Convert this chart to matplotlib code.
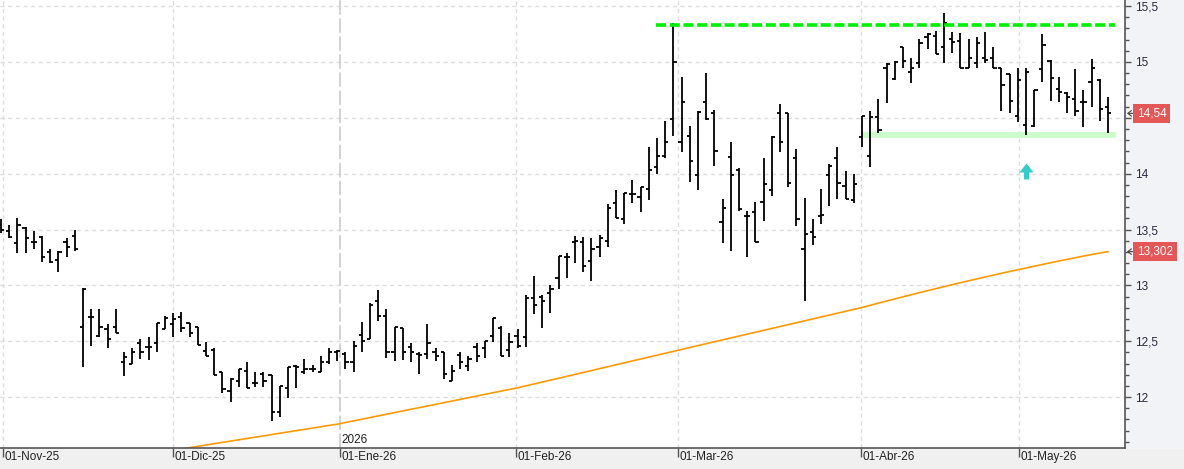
import numpy as np
import matplotlib
matplotlib.use('Agg')
import matplotlib.pyplot as plt
import matplotlib.transforms as mtransforms
from matplotlib.patches import Rectangle
from matplotlib.path import Path
from matplotlib.ticker import MultipleLocator, FuncFormatter

plt.rcParams['font.family'] = ['Liberation Sans', 'DejaVu Sans']

# daily OHLC, 03-Nov-25 .. 20-May-26
opens = [13.54, 13.49, 13.38, 13.51, 13.39, 13.43, 13.30, 13.23, 13.39, 13.44,
         12.63, 12.72, 12.55, 12.61, 12.63, 12.31, 12.30, 12.48, 12.45, 12.48,
         12.61, 12.65, 12.72, 12.66, 12.63, 12.41, 12.42, 12.22, 12.05, 12.14,
         12.23, 12.13, 12.21, 12.20, 11.87, 12.08, 12.28, 12.22, 12.25, 12.22,
         12.31, 12.40, 12.39, 12.31, 12.56, 12.52, 12.86, 12.73, 12.40, 12.62,
         12.45, 12.39, 12.39, 12.40, 12.40, 12.14, 12.38, 12.28, 12.45, 12.44,
         12.55, 12.62, 12.42, 12.55, 12.54, 12.89, 12.90, 12.93, 13.07, 13.25,
         13.39, 13.39, 13.22, 13.34, 13.40, 13.74, 13.59, 13.82, 13.79, 13.86,
         14.06, 14.16, 14.49, 14.28, 14.34, 13.99, 14.64, 14.54, 13.57, 14.15,
         14.03, 13.62, 13.66, 13.75, 13.85, 14.54, 14.54, 14.14, 13.33, 13.48,
         13.62, 13.99, 14.14, 13.89, 13.76, 14.33, 14.16, 14.51, 14.95, 14.85,
         15.13, 14.91, 14.99, 15.22, 15.23, 15.13, 15.21, 15.19, 14.95, 14.99,
         15.04, 15.04, 14.95, 14.89, 14.52, 14.44, 14.43, 14.94, 15.01, 14.76,
         14.72, 14.67, 14.64, 14.82, 14.84, 14.60]
highs = [13.59, 13.54, 13.60, 13.52, 13.49, 13.44, 13.33, 13.31, 13.42, 13.50,
         12.98, 12.79, 12.79, 12.65, 12.79, 12.40, 12.44, 12.52, 12.54, 12.66,
         12.73, 12.75, 12.76, 12.66, 12.63, 12.49, 12.44, 12.22, 12.17, 12.25,
         12.31, 12.22, 12.22, 12.20, 12.10, 12.27, 12.29, 12.34, 12.29, 12.37,
         12.44, 12.42, 12.40, 12.50, 12.67, 12.84, 12.96, 12.79, 12.63, 12.62,
         12.48, 12.40, 12.65, 12.44, 12.40, 12.29, 12.40, 12.37, 12.48, 12.50,
         12.71, 12.64, 12.57, 12.61, 12.91, 13.08, 12.91, 13.00, 13.26, 13.29,
         13.44, 13.43, 13.42, 13.45, 13.73, 13.85, 13.83, 13.94, 13.88, 14.24,
         14.32, 14.47, 15.35, 14.87, 14.43, 14.56, 14.90, 14.57, 13.77, 14.28,
         14.05, 13.67, 13.75, 14.14, 14.34, 14.62, 14.54, 14.22, 13.78, 13.59,
         13.86, 14.09, 14.24, 14.02, 14.00, 14.52, 14.56, 14.67, 14.99, 15.01,
         15.13, 15.04, 15.21, 15.26, 15.28, 15.44, 15.27, 15.26, 15.21, 15.22,
         15.27, 15.13, 14.95, 14.89, 14.95, 14.95, 14.75, 15.25, 15.02, 14.87,
         14.73, 14.94, 14.75, 15.03, 14.85, 14.69]
lows = [13.47, 13.42, 13.29, 13.29, 13.33, 13.21, 13.20, 13.12, 13.25, 13.31,
        12.27, 12.46, 12.54, 12.44, 12.57, 12.19, 12.30, 12.34, 12.33, 12.40,
        12.61, 12.54, 12.58, 12.54, 12.47, 12.37, 12.20, 12.04, 11.96, 12.09,
        12.08, 12.09, 12.09, 11.79, 11.82, 11.99, 12.08, 12.21, 12.22, 12.22,
        12.30, 12.32, 12.25, 12.22, 12.40, 12.52, 12.68, 12.35, 12.32, 12.33,
        12.31, 12.21, 12.34, 12.32, 12.16, 12.14, 12.25, 12.23, 12.31, 12.35,
        12.49, 12.37, 12.36, 12.44, 12.45, 12.74, 12.62, 12.75, 12.97, 13.07,
        13.20, 13.12, 13.04, 13.25, 13.34, 13.60, 13.55, 13.74, 13.66, 13.76,
        14.00, 14.14, 14.34, 14.19, 13.93, 13.85, 14.48, 14.07, 13.38, 13.31,
        13.67, 13.25, 13.39, 13.58, 13.80, 14.19, 13.88, 13.53, 12.86, 13.36,
        13.55, 13.71, 13.77, 13.77, 13.74, 14.24, 14.06, 14.36, 14.63, 14.84,
        14.95, 14.81, 14.95, 15.12, 15.07, 14.99, 15.08, 14.95, 14.95, 14.95,
        14.99, 14.95, 14.56, 14.54, 14.46, 14.35, 14.42, 14.82, 14.65, 14.64,
        14.54, 14.52, 14.42, 14.60, 14.47, 14.36]
closes = [13.50, 13.43, 13.54, 13.42, 13.39, 13.25, 13.21, 13.30, 13.34, 13.33,
          12.97, 12.72, 12.63, 12.52, 12.57, 12.36, 12.40, 12.40, 12.45, 12.66,
          12.71, 12.70, 12.62, 12.57, 12.47, 12.37, 12.20, 12.07, 12.16, 12.25,
          12.08, 12.13, 12.14, 11.87, 12.10, 12.27, 12.27, 12.25, 12.25, 12.31,
          12.40, 12.41, 12.31, 12.46, 12.50, 12.82, 12.73, 12.40, 12.63, 12.40,
          12.40, 12.38, 12.48, 12.37, 12.21, 12.23, 12.31, 12.34, 12.37, 12.50,
          12.71, 12.37, 12.49, 12.46, 12.89, 12.82, 12.86, 12.97, 13.26, 13.25,
          13.40, 13.17, 13.33, 13.42, 13.69, 13.60, 13.83, 13.82, 13.88, 14.03,
          14.16, 14.28, 15.00, 14.64, 14.11, 14.55, 14.49, 14.20, 13.69, 13.99,
          13.68, 13.62, 13.39, 13.91, 14.33, 14.28, 13.92, 13.59, 13.46, 13.43,
          13.63, 14.07, 13.92, 13.77, 13.91, 14.52, 14.51, 14.39, 14.98, 15.00,
          15.01, 14.95, 15.17, 15.25, 15.07, 15.35, 15.18, 14.95, 15.04, 15.17,
          15.02, 14.95, 14.79, 14.65, 14.84, 14.91, 14.75, 15.15, 14.86, 14.73,
          14.69, 14.56, 14.64, 14.95, 14.58, 14.54]

# long moving average (orange), first 21 sessions not shown
sma = [np.nan] * 21 + [
    11.524, 11.535, 11.547, 11.559, 11.570, 11.582, 11.594, 11.606, 11.617, 11.629,
    11.641, 11.652, 11.664, 11.676, 11.687, 11.699, 11.711, 11.722, 11.734, 11.746,
    11.757, 11.772, 11.787, 11.802, 11.816, 11.831, 11.846, 11.861, 11.876, 11.891,
    11.905, 11.920, 11.935, 11.950, 11.965, 11.979, 11.994, 12.009, 12.024, 12.039,
    12.053, 12.068, 12.083, 12.100, 12.117, 12.134, 12.152, 12.169, 12.186, 12.203,
    12.220, 12.237, 12.255, 12.272, 12.289, 12.306, 12.323, 12.341, 12.358, 12.375,
    12.392, 12.409, 12.427, 12.444, 12.461, 12.478, 12.495, 12.512, 12.529, 12.546,
    12.563, 12.580, 12.597, 12.614, 12.631, 12.648, 12.665, 12.682, 12.699, 12.716,
    12.733, 12.750, 12.767, 12.784, 12.802, 12.822, 12.841, 12.860, 12.879, 12.898,
    12.916, 12.935, 12.953, 12.971, 12.989, 13.006, 13.024, 13.041, 13.058, 13.075,
    13.091, 13.108, 13.124, 13.140, 13.156, 13.172, 13.187, 13.203, 13.218, 13.233,
    13.247, 13.262, 13.276, 13.290, 13.302]

month_pos = [0.2, 21.0, 41.3, 62.8, 82.6, 104.9, 124.2]
month_labels = ['01-Nov-25', '01-Dic-25', '01-Ene-26', '01-Feb-26',
                '01-Mar-26', '01-Abr-26', '01-May-26']
year_pos = 41.3
year_label = '2026'

resistance = 15.33
resistance_span = (79.9, 135.9)
support = (14.32, 14.37)
support_span = (105.0, 136.0)
signal_bar, signal_price = 125.0, 14.02

last_close = 14.54
last_sma = 13.302
hidden_tick = 14.5   # covered by the last-close tag in the original

W, H = 1184, 469
fig = plt.figure(figsize=(W / 100, H / 100), dpi=100)
fig.patch.set_facecolor('#f0f0f0')
fig.add_artist(Rectangle((1125 / W, 21 / H), 1 - 1125 / W, 1 - 21 / H,
                         transform=fig.transFigure, color='#f2f3f6', zorder=0))
ax = fig.add_axes([0, 21 / H, 1125 / W, 448 / H])
ax.set_facecolor('white')

x = np.arange(len(closes))
ax.set_xlim(-0.12, 137.07)
ax.set_ylim(11.544, 15.555)

# grid
for y in np.arange(12, 15.51, 0.5):
    ax.axhline(y, color='#dcdcdc', lw=1, ls=(0, (3, 2.5)), zorder=0)
for p in month_pos:
    if p == year_pos:
        ax.axvline(p, color='#cfcfcf', lw=1.3, ls=(0, (8, 2)), zorder=0)
    else:
        ax.axvline(p, color='#dcdcdc', lw=1, ls=(0, (3, 2.5)), zorder=0)

# bars
ax.vlines(x, lows, highs, color='black', lw=1.3, zorder=3)
ax.hlines(opens, x - 0.4, x, color='black', lw=1.3, zorder=3)
ax.hlines(closes, x, x + 0.4, color='black', lw=1.3, zorder=3)

# moving average
ax.plot(x, sma, color='#ff9900', lw=1.2, zorder=2)

# levels
ax.hlines(resistance, *resistance_span, colors='#00f000', lw=2.6,
          linestyles=(0, (2.8, 1.0)), zorder=4)
ax.fill_between(support_span, support[0], support[1], color='#ccffcc',
                lw=0, zorder=1)

# signal arrow (up)
arrow = Path([(0, 1.14), (1, -0.14), (0.36, -0.14), (0.36, -1.14),
              (-0.36, -1.14), (-0.36, -0.14), (-1, -0.14), (0, 1.14)],
             [Path.MOVETO] + [Path.LINETO] * 6 + [Path.CLOSEPOLY])
ax.scatter([signal_bar], [signal_price], marker=arrow, s=11.5 ** 2,
           color='#33cccc', lw=0, zorder=5)

# axes styling
for s in ['top', 'left']:
    ax.spines[s].set_visible(False)
for s in ['right', 'bottom']:
    ax.spines[s].set_color('#555555')
    ax.spines[s].set_linewidth(1.2)


def price_fmt(v, pos):
    if abs(v - hidden_tick) < 1e-6:
        return ''
    return f'{v:g}'.replace('.', ',')


ax.yaxis.tick_right()
ax.yaxis.set_major_locator(MultipleLocator(0.5))
ax.yaxis.set_minor_locator(MultipleLocator(0.1))
ax.yaxis.set_major_formatter(FuncFormatter(price_fmt))
ax.tick_params(axis='y', which='major', length=4.5, width=1, color='#555555',
               labelsize=8.5, labelcolor='#2a2a40', pad=3)
ax.tick_params(axis='y', which='minor', length=2.8, width=1, color='#555555')

ax.set_xticks(month_pos)
ax.set_xticklabels([])
ax.tick_params(axis='x', length=6.5, width=1, color='#555555')
xt = mtransforms.blended_transform_factory(ax.transData, ax.transAxes)
xt = mtransforms.offset_copy(xt, fig=fig, x=1.5, y=-3, units='dots')
for p, lab in zip(month_pos, month_labels):
    ax.text(p, 0, lab, transform=xt, ha='left', va='top', fontsize=8.5,
            color='#222222', clip_on=False)

# year marker
ax.text(year_pos, 11.565, year_label, ha='left', va='bottom', fontsize=8.5,
        color='#222222', transform=mtransforms.offset_copy(ax.transData, fig=fig, x=2, units='dots'))

# last value tags on the price axis
yt = mtransforms.blended_transform_factory(ax.transAxes, ax.transData)
for val, txt in [(last_close, '14,54'), (last_sma, '13,302')]:
    ax.annotate('', xy=(1, val), xycoords=mtransforms.offset_copy(yt, fig=fig, x=2, units='dots'),
                xytext=(1, val), textcoords=mtransforms.offset_copy(yt, fig=fig, x=9, units='dots'),
                arrowprops=dict(arrowstyle='->,head_length=0.25,head_width=0.2',
                                color='#444444', lw=0.8, shrinkA=0, shrinkB=0),
                annotation_clip=False)
    ax.text(1, val, txt, transform=mtransforms.offset_copy(yt, fig=fig, x=12, units='dots'),
            ha='left', va='center', fontsize=8.5, color='white', clip_on=False,
            bbox=dict(boxstyle='square,pad=0.3', fc='#e55757', ec='none'))

fig.savefig('out.png', dpi=100, facecolor=fig.get_facecolor())
